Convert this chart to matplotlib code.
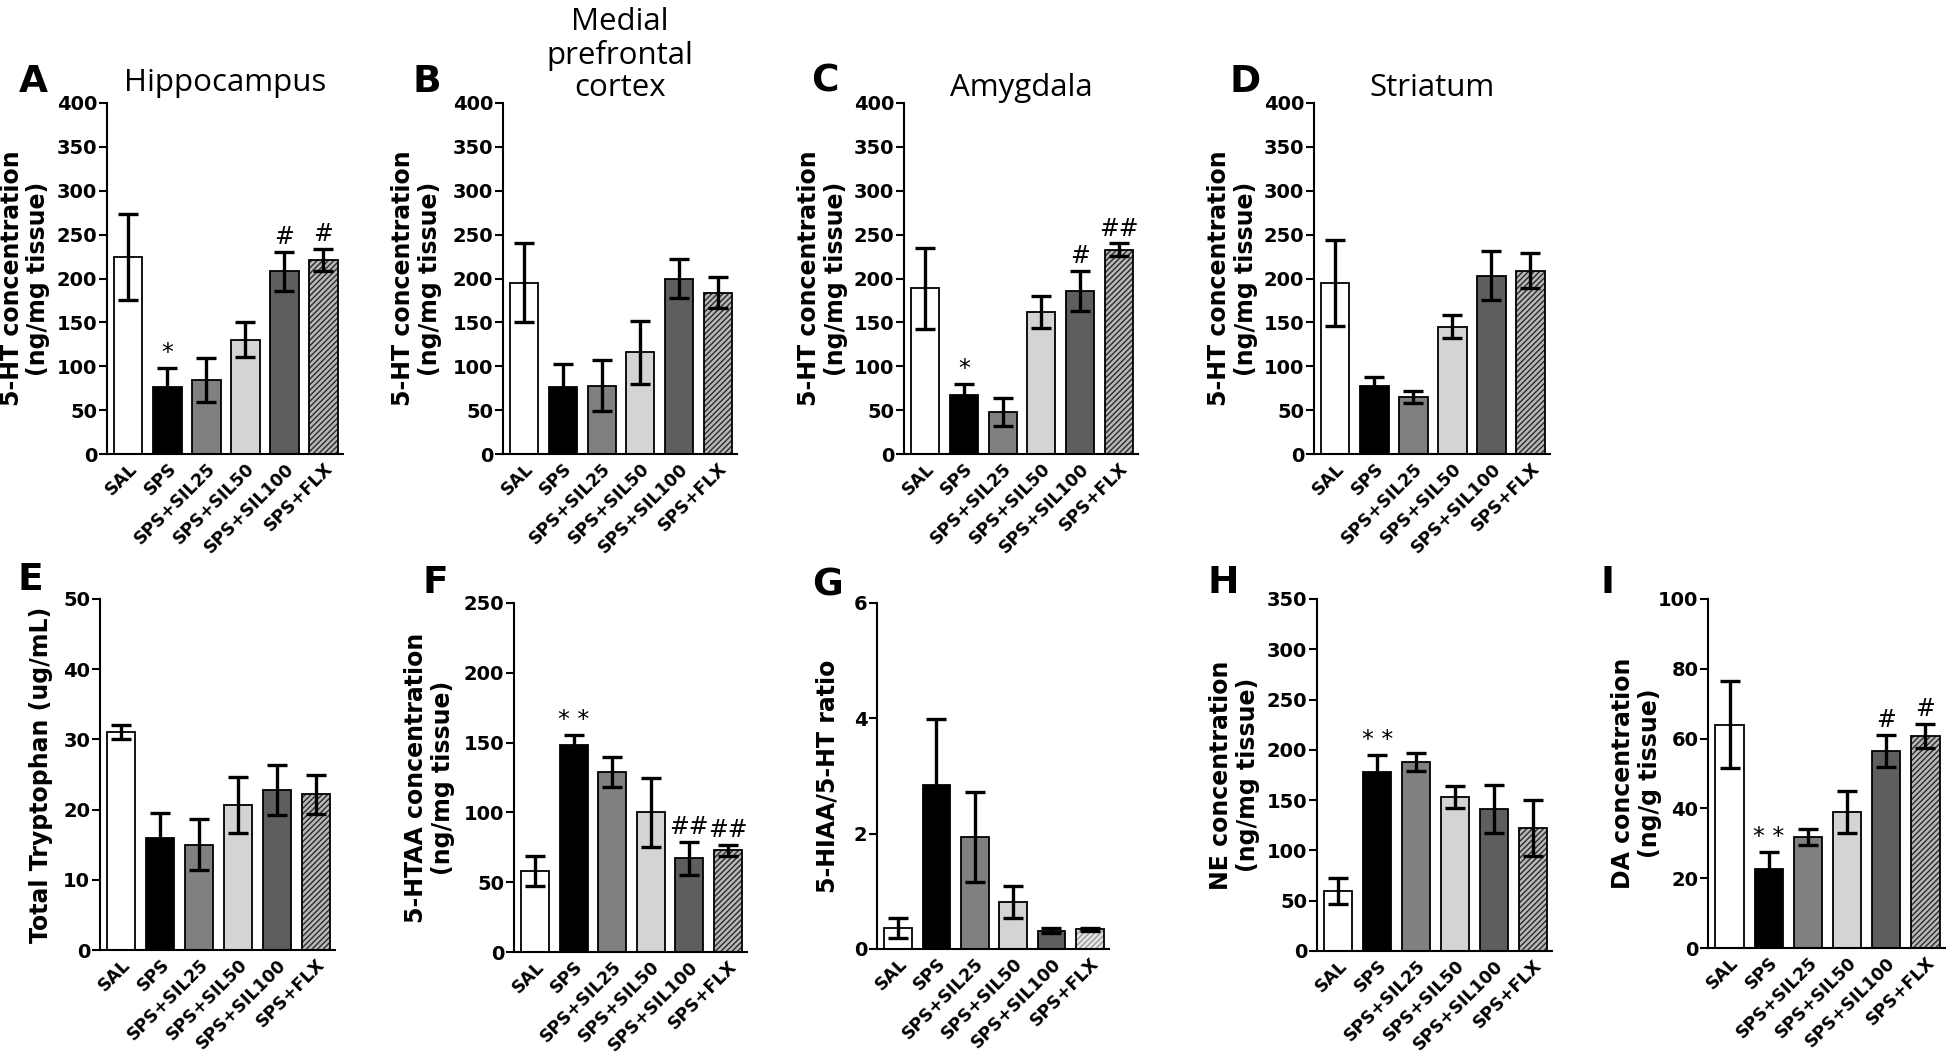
import matplotlib.pyplot as plt
import numpy as np

plt.rcParams['font.family'] = ['DejaVu Sans']
plt.rcParams['hatch.linewidth'] = 1.0

groups = ["SAL", "SPS", "SPS+SIL25", "SPS+SIL50", "SPS+SIL100", "SPS+FLX"]
bar_colors = ['#ffffff', '#000000', '#808080', '#d4d4d4', '#5e5e5e', '#b8b8b8']

# 5-HT, 四个脑区
ht_hip = [224, 76, 84, 130, 208, 221]
ht_hip_err = [49, 22, 25, 20, 22, 13]
ht_mpfc = [195, 76, 78, 116, 200, 184]
ht_mpfc_err = [45, 27, 29, 36, 22, 18]
ht_amy = [189, 67, 48, 162, 186, 233]
ht_amy_err = [46, 13, 16, 18, 23, 7]
ht_str = [195, 77, 65, 145, 203, 209]
ht_str_err = [49, 11, 7, 13, 28, 20]

# 下排
trp = [31.1, 16.0, 15.0, 20.7, 22.8, 22.2]
trp_err = [1.0, 3.5, 3.6, 4.0, 3.5, 2.8]
hiaa = [58, 148, 129, 100, 67, 73]
hiaa_err = [11, 7.5, 11, 25, 12, 4]
ratio = [0.36, 2.85, 1.95, 0.82, 0.32, 0.34]
ratio_err = [0.17, 1.14, 0.78, 0.28, 0.05, 0.03]
ne = [60, 178, 188, 153, 141, 122]
ne_err = [13, 17, 9, 11, 24, 28]
da = [64, 22.5, 31.8, 39, 56.5, 60.7]
da_err = [12.5, 5, 2.3, 6, 4.5, 3.5]

# (值, 误差, y上限, y刻度步长, y标签, 显著性标记, 面板字母, 标题)
panels = [
    (ht_hip, ht_hip_err, 400, 50, "5-HT concentration\n(ng/mg tissue)", ["", "*", "", "", "#", "#"], "A", "Hippocampus"),
    (ht_mpfc, ht_mpfc_err, 400, 50, "5-HT concentration\n(ng/mg tissue)", [""] * 6, "B", "Medial\nprefrontal\ncortex"),
    (ht_amy, ht_amy_err, 400, 50, "5-HT concentration\n(ng/mg tissue)", ["", "*", "", "", "#", "##"], "C", "Amygdala"),
    (ht_str, ht_str_err, 400, 50, "5-HT concentration\n(ng/mg tissue)", [""] * 6, "D", "Striatum"),
    (trp, trp_err, 50, 10, "Total Tryptophan (ug/mL)", [""] * 6, "E", ""),
    (hiaa, hiaa_err, 250, 50, "5-HTAA concentration\n(ng/mg tissue)", ["", "**", "", "", "##", "##"], "F", ""),
    (ratio, ratio_err, 6, 2, "5-HIAA/5-HT ratio", [""] * 6, "G", ""),
    (ne, ne_err, 350, 50, "NE concentration\n(ng/mg tissue)", ["", "**", "", "", "", ""], "H", ""),
    (da, da_err, 100, 20, "DA concentration\n(ng/g tissue)", ["", "**", "", "", "#", "#"], "I", ""),
]

# 轴位置 (像素): 左, 上, 右, 下
boxes = [
    (107, 103, 343, 454), (503, 103, 737, 454), (904, 103, 1138, 454), (1314, 103, 1550, 454),
    (100, 599, 335, 950), (514, 603, 747, 952), (877, 603, 1109, 949), (1317, 599, 1552, 951),
    (1708, 599, 1945, 948),
]
label_x = [-0.24, -0.26, -0.24, -0.237, -0.2, -0.253, -0.16, -0.243, -0.194]
letter_pos = [(33, 82), (427, 82), (825, 82), (1245, 82), (30, 580), (435, 583), (827, 585), (1223, 583), (1608, 583)]
title_y = [83, 55, 88, 88]

W, H = 1946, 1056
fig = plt.figure(figsize=(W / 100, H / 100), dpi=100)

for k, (vals, errs, ymax, step, ylab, marks, letter, title) in enumerate(panels):
    l, t, r, b = boxes[k]
    ax = fig.add_axes([l / W, 1 - b / H, (r - l) / W, (b - t) / H])
    x = np.arange(len(groups))
    for i in range(len(groups)):
        if i == 5:
            hcol = '#9a9a9a' if k == 6 else '#2a2a2a'
            fcol = '#e6e6e6' if k == 6 else '#b8b8b8'
            ax.bar(x[i], vals[i], width=0.72, color=fcol, edgecolor=hcol, hatch='//////', linewidth=0, zorder=2)
            ax.bar(x[i], vals[i], width=0.72, fill=False, edgecolor='black', linewidth=1.3, zorder=2)
        else:
            ax.bar(x[i], vals[i], width=0.72, color=bar_colors[i], edgecolor='black', linewidth=1.3, zorder=2)
    ax.errorbar(x, vals, yerr=errs, fmt='none', ecolor='black', elinewidth=2.4,
                capsize=7, capthick=2.4, zorder=3)
    for i, m in enumerate(marks):
        if m:
            txt = "* *" if m == "**" else m
            ax.annotate(txt, (x[i], vals[i] + errs[i]), xytext=(0, 2), textcoords='offset points',
                        ha='center', va='bottom', fontsize=17, family='DejaVu Sans', zorder=4)

    ax.set_xlim(-0.55, 5.5)
    ax.set_ylim(0, ymax)
    ax.set_yticks(np.arange(0, ymax + step / 2, step))
    ax.set_xticks(x)
    ax.set_xticklabels(groups, rotation=45, ha='right', rotation_mode='anchor',
                       fontsize=12.5, fontweight='bold')
    for lab in ax.get_yticklabels():
        lab.set_fontsize(14)
        lab.set_fontweight('bold')
    ax.spines['top'].set_visible(False)
    ax.spines['right'].set_visible(False)
    ax.spines['left'].set_linewidth(1.5)
    ax.spines['bottom'].set_linewidth(1.5)
    ax.tick_params(axis='y', length=6, width=1.5, pad=1)
    ax.tick_params(axis='x', length=0, pad=4)
    ax.set_ylabel(ylab, fontsize=17, fontweight='bold', linespacing=1.15)
    ax.yaxis.set_label_coords(label_x[k], 0.5)

    lx, ly = letter_pos[k]
    fig.text(lx / W, 1 - ly / H, letter, fontsize=27, fontweight='bold', ha='center', va='center')
    if title:
        fig.text((l + r) / 2 / W, 1 - title_y[k] / H, title, fontsize=22.5, family='Open Sans',
                 ha='center', va='center', linespacing=1.1)

plt.savefig("out.png", dpi=100)
plt.close()
